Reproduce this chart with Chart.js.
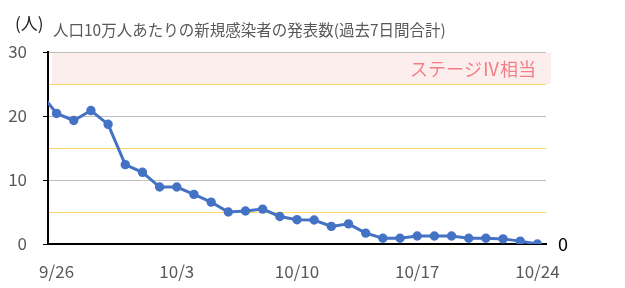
<!DOCTYPE html>
<html>
<head>
<meta charset="utf-8">
<script src="https://cdn.jsdelivr.net/npm/chart.js@4/dist/chart.umd.min.js"></script>
<style>
  html, body { margin: 0; padding: 0; background: #fff; }
  #wrap { width: 625px; height: 288px; }
</style>
</head>
<body>
<div id="wrap"><canvas id="casesChart"></canvas></div>
<script>
// dates (9/25 lies just left of the visible range, its segment is clipped)
var dates = ['9/25', '9/26', '9/27', '9/28', '9/29', '9/30',
  '10/1', '10/2', '10/3', '10/4', '10/5', '10/6', '10/7', '10/8', '10/9', '10/10',
  '10/11', '10/12', '10/13', '10/14', '10/15', '10/16', '10/17', '10/18', '10/19',
  '10/20', '10/21', '10/22', '10/23', '10/24'];
var perTenThousand = [23.8, 20.4, 19.3, 20.85, 18.7, 12.4,
  11.2, 8.9, 8.9, 7.75, 6.55, 5.0, 5.15, 5.45, 4.3, 3.8,
  3.75, 2.75, 3.15, 1.7, 0.9, 0.9, 1.25, 1.25, 1.25,
  0.9, 0.9, 0.8, 0.45, 0.0];
var xTickDates = ['9/26', '10/3', '10/10', '10/17', '10/24'];
var yTicks = [0, 10, 20, 30];
var stageBand = [25, 30];

var titleText = '人口10万人あたりの新規感染者の発表数(過去7日間合計)';
var unitText = '(人)';
var bandText = 'ステージⅣ相当';
var fontFamily = '"Noto Sans CJK JP", "Noto Sans", sans-serif';

var points = dates.map(function (d, i) { return { x: i, y: perTenThousand[i] }; });

var extras = {
  id: 'extras',
  beforeDraw: function (chart) {
    var c = chart.ctx, a = chart.chartArea, y = chart.scales.y;
    var top = y.getPixelForValue(stageBand[1]), bottom = y.getPixelForValue(stageBand[0]);
    c.save();
    c.fillStyle = '#fdeeee';
    c.fillRect(a.left + 4, top + 1, a.right - a.left + 1, bottom - top - 1);
    c.fillStyle = '#f27f86';
    c.font = '18px ' + fontFamily;
    c.textAlign = 'right';
    c.textBaseline = 'middle';
    c.fillText(bandText, a.right - 10, (top + bottom) / 2 + 1);
    c.restore();
  },
  afterDraw: function (chart) {
    var c = chart.ctx, a = chart.chartArea, y = chart.scales.y;
    c.save();
    c.textBaseline = 'middle';
    c.textAlign = 'left';
    c.fillStyle = '#222';
    c.font = '17px ' + fontFamily;
    c.fillText(unitText, 15, 24);
    c.fillStyle = '#595959';
    c.font = '15.5px ' + fontFamily;
    c.fillText(titleText, 53, 30);
    c.fillStyle = '#000';
    c.textAlign = 'center';
    c.font = '18px ' + fontFamily;
    c.fillText(String(perTenThousand[perTenThousand.length - 1]), a.right + 17, y.getPixelForValue(0));
    c.restore();
  }
};

new Chart(document.getElementById('casesChart'), {
  type: 'line',
  data: {
    datasets: [{
      data: points,
      borderColor: '#4472c4',
      backgroundColor: '#4472c4',
      borderWidth: 3,
      pointRadius: 3.2,
      pointHoverRadius: 3.2,
      tension: 0,
      clip: 0
    }]
  },
  plugins: [extras],
  options: {
    responsive: true,
    maintainAspectRatio: false,
    animation: false,
    layout: { padding: { left: 0, right: 79, top: 52, bottom: 0 } },
    plugins: { legend: { display: false }, tooltip: { enabled: false } },
    scales: {
      x: {
        type: 'linear',
        min: 0.5,
        max: dates.length - 0.5,
        afterBuildTicks: function (scale) {
          scale.ticks = xTickDates.map(function (d) { return { value: dates.indexOf(d) }; });
        },
        afterFit: function (scale) { scale.height = 44; },
        ticks: {
          autoSkip: false,
          maxRotation: 0,
          padding: 17,
          color: '#595959',
          font: { family: fontFamily, size: 17 },
          callback: function (v) { return dates[v]; }
        },
        grid: { display: false, drawTicks: false },
        border: { color: '#000', width: 2 }
      },
      y: {
        min: 0,
        max: 30,
        afterBuildTicks: function (scale) {
          scale.ticks = [0, 5, 10, 15, 20, 25, 30].map(function (v) { return { value: v }; });
        },
        afterFit: function (scale) { scale.width = 48; },
        ticks: {
          padding: 16,
          color: '#595959',
          font: { family: fontFamily, size: 17 },
          callback: function (v) { return yTicks.indexOf(v) >= 0 ? String(v) : ''; }
        },
        grid: {
          tickLength: 5,
          lineWidth: 1,
          color: function (ctx) {
            var v = ctx.tick.value;
            if (v === 0) return 'rgba(0,0,0,0)';
            return v % 10 === 0 ? '#c0c0c0' : '#ffd966';
          },
          tickColor: function (ctx) {
            return ctx.tick.value % 10 === 0 ? '#000' : 'rgba(0,0,0,0)';
          }
        },
        border: { color: '#000', width: 2 }
      }
    }
  }
});
</script>
</body>
</html>
